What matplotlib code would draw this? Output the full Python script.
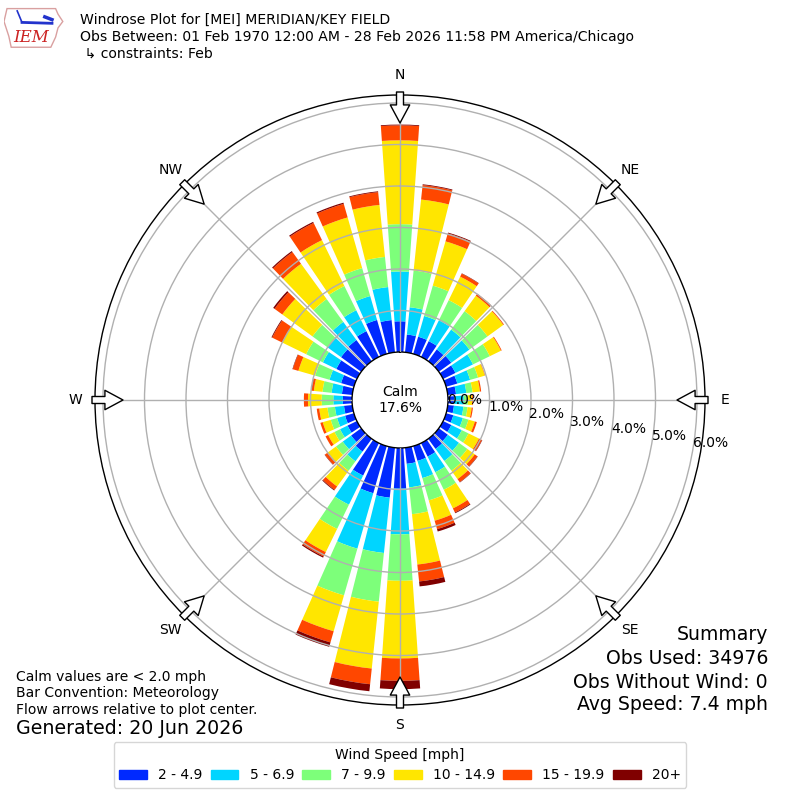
import numpy as np
import matplotlib
matplotlib.use("Agg")
import matplotlib.pyplot as plt
import matplotlib.transforms as mtransforms
from matplotlib.patches import Patch, Polygon

# direction bins (degrees, meteorological) and speed classes
directions = np.arange(0, 360, 10)
speed_bins = ["2 - 4.9", "5 - 6.9", "7 - 9.9", "10 - 14.9", "15 - 19.9", "20+"]

# percent of all obs, per direction, one list per speed class
pct_2_5 = [0.74, 0.43, 0.43, 0.42, 0.35, 0.37, 0.33, 0.28, 0.20, 0.15, 0.15, 0.18,
           0.22, 0.27, 0.30, 0.36, 0.37, 0.39, 0.98, 1.21, 1.18, 0.87, 0.38, 0.30,
           0.25, 0.22, 0.20, 0.22, 0.25, 0.32, 0.55, 0.60, 0.63, 0.69, 0.85, 0.78]
pct_5_7 = [1.20, 0.66, 0.52, 0.56, 0.59, 0.54, 0.47, 0.32, 0.25, 0.23, 0.23, 0.24,
           0.28, 0.33, 0.36, 0.42, 0.43, 0.57, 1.10, 1.34, 1.39, 0.78, 0.29, 0.25,
           0.20, 0.20, 0.22, 0.23, 0.25, 0.29, 0.36, 0.40, 0.54, 0.56, 0.60, 0.80]
pct_7_10 = [1.14, 0.89, 0.76, 0.54, 0.55, 0.54, 0.45, 0.20, 0.15, 0.10, 0.10, 0.14,
            0.18, 0.25, 0.29, 0.47, 0.56, 0.65, 1.12, 1.18, 1.17, 0.65, 0.28, 0.20,
            0.15, 0.16, 0.18, 0.28, 0.22, 0.36, 0.45, 0.45, 0.68, 0.65, 0.70, 0.73]
pct_10_15 = [2.02, 1.72, 1.11, 0.63, 0.46, 0.47, 0.30, 0.17, 0.18, 0.10, 0.10, 0.16,
             0.28, 0.22, 0.25, 0.50, 0.51, 1.22, 1.87, 1.62, 0.90, 0.62, 0.47, 0.25,
             0.17, 0.20, 0.20, 0.33, 0.21, 0.42, 0.64, 0.90, 1.05, 1.23, 1.27, 1.26]
pct_15_20 = [0.36, 0.35, 0.20, 0.08, 0.06, 0.02, 0.02, 0.01, 0.03, 0.02, 0.03, 0.05,
             0.08, 0.08, 0.09, 0.11, 0.21, 0.41, 0.54, 0.38, 0.28, 0.12, 0.10, 0.08,
             0.07, 0.06, 0.06, 0.10, 0.05, 0.14, 0.27, 0.23, 0.35, 0.46, 0.34, 0.31]
pct_20_up = [0.02, 0.02, 0.02, 0.01, 0.00, 0.00, 0.00, 0.00, 0.00, 0.00, 0.00, 0.00,
             0.01, 0.01, 0.01, 0.02, 0.06, 0.12, 0.20, 0.17, 0.11, 0.03, 0.02, 0.01,
             0.00, 0.00, 0.00, 0.00, 0.01, 0.01, 0.02, 0.04, 0.03, 0.03, 0.03, 0.02]

calm_pct = 17.6
rticks = [0, 1, 2, 3, 4, 5, 6]
compass = ["N", "NE", "E", "SE", "S", "SW", "W", "NW"]

series = [pct_2_5, pct_5_7, pct_7_10, pct_10_15, pct_15_20, pct_20_up]
colors = plt.cm.jet(np.arange(1, 7) / 6.0)

fig = plt.figure(figsize=(8, 8), dpi=100)
ax = fig.add_axes([95 / 800, 95 / 800, 610 / 800, 610 / 800], projection="polar")
ax.set_theta_zero_location("N")
ax.set_theta_direction(-1)
ax.set_rorigin(-48 / 41.5)
ax.set_rlim(0, 257 / 41.5)

theta = np.deg2rad(directions)
bottom = np.zeros(len(directions))
for vals, col, lab in zip(series, colors, speed_bins):
    ax.bar(theta, vals, width=np.deg2rad(8), bottom=bottom, color=col,
           label=lab, zorder=1, linewidth=0)
    bottom = bottom + np.asarray(vals)

ax.set_xticks(np.deg2rad(np.arange(0, 360, 45)))
ax.set_xticklabels([])
ax.set_yticks(rticks[1:])
ax.set_yticklabels([])
ax.grid(True, color="#b0b0b0", lw=1)
ax.set_axisbelow(False)
ax.spines["polar"].set_color("black")
ax.spines["polar"].set_linewidth(1)
ax.spines["inner"].set_color("black")
ax.spines["inner"].set_linewidth(1)

# percent labels along the ring
off = mtransforms.ScaledTranslation(0.177, 0.083, fig.dpi_scale_trans)
for r in rticks:
    ax.text(np.deg2rad(100), r, f"{r:.1f}%", transform=ax.transData + off,
            ha="center", va="center", fontsize=10, zorder=6)

ax.text(0.5, 0.5, "Calm\n%.1f%%" % calm_pct, transform=ax.transAxes,
        ha="center", va="center", fontsize=10)

for i, name in enumerate(compass):
    th = np.deg2rad(i * 45)
    ax.text(th, 277 / 41.5, name, ha="center", va="center", fontsize=10,
            clip_on=False)
    ax.annotate("", xy=(th, 229 / 41.5), xytext=(th, 260 / 41.5),
                arrowprops=dict(arrowstyle="simple,head_length=0.93,head_width=1.0,tail_width=0.36",
                                fc="white", ec="black", lw=1, mutation_scale=14,
                                shrinkA=0, shrinkB=0),
                annotation_clip=False, zorder=7)

# header
fig.text(80 / 800, 1 - 20 / 800, "Windrose Plot for [MEI] MERIDIAN/KEY FIELD",
         fontsize=10.1, va="center")
fig.text(80 / 800, 1 - 37 / 800,
         "Obs Between: 01 Feb 1970 12:00 AM - 28 Feb 2026 11:58 PM America/Chicago",
         fontsize=10.1, va="center")
fig.text(80 / 800, 1 - 54 / 800, " \u21b3 constraints: Feb", fontsize=10.1, va="center")

# small logo
lax = fig.add_axes([4 / 800, 1 - 50 / 800, 60 / 800, 46 / 800])
lax.set_xlim(0, 1)
lax.set_ylim(0, 1)
lax.axis("off")
lax.add_patch(Polygon([(0.05, 0.9), (0.86, 0.9), (0.9, 0.78), (0.98, 0.62), (0.9, 0.48),
                       (0.86, 0.28), (0.78, 0.06), (0.12, 0.06), (0.08, 0.3), (0.0, 0.62)],
                      closed=True, fc="white", ec="#d9a0a0", lw=1))
lax.plot([0.3, 0.8], [0.6, 0.58], color="#2233cc", lw=2)
lax.plot([0.3, 0.22], [0.6, 0.85], color="#2233cc", lw=1.2)
lax.plot([0.68, 0.8], [0.72, 0.66], color="#2233cc", lw=2.5)
lax.text(0.45, 0.28, "IEM", color="#cc2222", fontsize=12, style="italic",
         family="DejaVu Serif", ha="center", va="center")

# footers
fig.text(16 / 800, 1 - 677 / 800, "Calm values are < 2.0 mph", fontsize=10, va="center")
fig.text(16 / 800, 1 - 693 / 800, "Bar Convention: Meteorology", fontsize=10, va="center")
fig.text(16 / 800, 1 - 710 / 800, "Flow arrows relative to plot center.", fontsize=10,
         va="center")
fig.text(16 / 800, 1 - 729 / 800, "Generated: 20 Jun 2026", fontsize=13.7, va="center")

fig.text(768 / 800, 1 - 635 / 800, "Summary", fontsize=13.6, ha="right", va="center")
fig.text(768 / 800, 1 - 659 / 800, "Obs Used: 34976", fontsize=13.6, ha="right",
         va="center")
fig.text(768 / 800, 1 - 682 / 800, "Obs Without Wind: 0", fontsize=13.6, ha="right",
         va="center")
fig.text(768 / 800, 1 - 705 / 800, "Avg Speed: 7.4 mph", fontsize=13.6, ha="right",
         va="center")

handles = [Patch(color=c) for c in colors]
fig.legend(handles, speed_bins, ncol=6, loc="center", bbox_to_anchor=(0.5, 1 - 765 / 800),
           title="Wind Speed [mph]", fontsize=10, title_fontsize=10,
           columnspacing=0.6, handletextpad=0.8)

fig.savefig("out.png", dpi=100)
